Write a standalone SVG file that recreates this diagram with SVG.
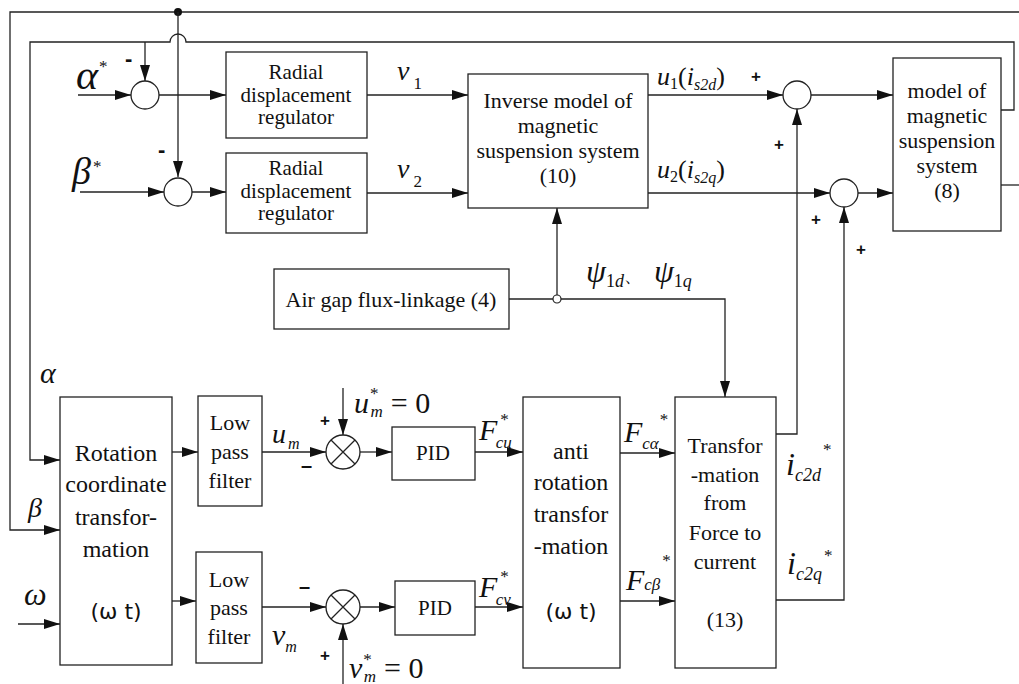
<svg xmlns="http://www.w3.org/2000/svg" width="1019" height="684" viewBox="0 0 1019 684">
<style>
.box{fill:#fff;stroke:#222;stroke-width:1.3}
.ln{fill:none;stroke:#222;stroke-width:1.3}
.t{font-family:"Liberation Serif",serif;font-size:21px;text-anchor:middle;fill:#111}
.m{font-family:"Liberation Serif",serif;font-style:italic;fill:#111}
.n{font-family:"Liberation Serif",serif;font-style:normal;fill:#111}
.sg{font-family:"Liberation Sans",sans-serif;font-weight:bold;fill:#111}
.ar{marker-end:url(#ah)}
</style>
<defs>
<marker id="ah" viewBox="0 0 16 10" refX="16" refY="5" markerWidth="16" markerHeight="10" markerUnits="userSpaceOnUse" orient="auto"><path d="M0,0 L16,5 L0,10 z" fill="#111"/></marker>
</defs>
<rect width="1019" height="684" fill="#fff"/>
<g id="connectors">
<path class="ln ar" d="M1019,12 H10 V530 H60"/>
<circle cx="178" cy="12" r="4" fill="#111"/>
<path class="ln ar" d="M178,12 V177"/>
<path class="ln ar" d="M1001,110 H1014 V42 H186 A8,8 0 0 0 170,42 H30 V460 H60"/>
<path class="ln ar" d="M145,42 V81"/>
<path class="ln ar" d="M78,95 H131"/>
<path class="ln ar" d="M159,95 H226"/>
<path class="ln ar" d="M80,192 H164"/>
<path class="ln ar" d="M192,192 H226"/>
<path class="ln ar" d="M367,95 H468"/>
<path class="ln ar" d="M367,193 H468"/>
<path class="ln ar" d="M648,95 H783"/>
<path class="ln ar" d="M811,95 H893"/>
<path class="ln ar" d="M648,193 H830"/>
<path class="ln ar" d="M858,193 H893"/>
<path class="ln" d="M1001,185 H1019"/>
<path class="ln" d="M509,299 H553"/>
<circle cx="557" cy="299" r="4" fill="#fff" stroke="#222" stroke-width="1.2"/>
<path class="ln ar" d="M561,299 H725 V397"/>
<path class="ln ar" d="M557,295 V208"/>
<path class="ln ar" d="M776,434 H797 V109"/>
<path class="ln ar" d="M776,600 H844 V207"/>
<path class="ln ar" d="M172,452 H198"/>
<path class="ln ar" d="M172,601 H196"/>
<path class="ln ar" d="M262,452 H326"/>
<path class="ln ar" d="M343,388 V435"/>
<path class="ln ar" d="M360,452 H392"/>
<path class="ln ar" d="M475,452 H523"/>
<path class="ln ar" d="M620,453 H675"/>
<path class="ln ar" d="M262,607 H326"/>
<path class="ln ar" d="M343,684 V624"/>
<path class="ln ar" d="M360,607 H395"/>
<path class="ln ar" d="M475,607 H523"/>
<path class="ln ar" d="M620,601 H675"/>
<path class="ln ar" d="M18,624 H60"/>
</g>
<g id="sum-alpha"><circle cx="145" cy="95" r="14" class="box"/></g>
<g id="sum-beta"><circle cx="178" cy="192" r="14" class="box"/></g>
<g id="sum-u1"><circle cx="797" cy="95" r="14" class="box"/></g>
<g id="sum-u2"><circle cx="844" cy="193" r="14" class="box"/></g>
<g id="mult-u"><circle cx="343" cy="452" r="17" class="box"/><path class="ln" d="M331,440 L355,464 M355,440 L331,464"/></g>
<g id="mult-v"><circle cx="343" cy="607" r="17" class="box"/><path class="ln" d="M331,595 L355,619 M355,595 L331,619"/></g>
<g id="radial1"><rect class="box" x="226" y="52" width="141" height="86"/>
<text class="t" x="296" y="79">Radial</text><text class="t" x="296" y="102">displacement</text><text class="t" x="296" y="124">regulator</text></g>
<g id="radial2"><rect class="box" x="226" y="153" width="141" height="80"/>
<text class="t" x="296" y="175">Radial</text><text class="t" x="296" y="198">displacement</text><text class="t" x="296" y="220">regulator</text></g>
<g id="inverse"><rect class="box" x="468" y="74" width="180" height="134"/>
<text class="t" style="font-size:22px" x="558" y="108">Inverse model of</text><text class="t" style="font-size:22px" x="558" y="133">magnetic</text><text class="t" style="font-size:22px" x="558" y="158">suspension system</text><text class="t" style="font-size:22px" x="558" y="183">(10)</text></g>
<g id="model"><rect class="box" x="893" y="58" width="108" height="173"/>
<text class="t" style="font-size:22px" x="947" y="98">model of</text><text class="t" style="font-size:22px" x="947" y="123">magnetic</text><text class="t" style="font-size:22px" x="947" y="148">suspension</text><text class="t" style="font-size:22px" x="947" y="173">system</text><text class="t" style="font-size:22px" x="947" y="198">(8)</text></g>
<g id="airgap"><rect class="box" x="274" y="269" width="235" height="60"/>
<text class="t" style="font-size:22px" x="391" y="307">Air gap flux-linkage (4)</text></g>
<g id="rotation"><rect class="box" x="60" y="397" width="112" height="268"/>
<text class="t" style="font-size:24px" x="116" y="461">Rotation</text><text class="t" style="font-size:24px" x="116" y="492">coordinate</text><text class="t" style="font-size:24px" x="116" y="525">transfor-</text><text class="t" style="font-size:24px" x="116" y="557">mation</text><text class="t" style="font-size:22px;font-family:'DejaVu Sans',sans-serif" x="116" y="619">(ω t)</text></g>
<g id="lpf1"><rect class="box" x="198" y="396" width="64" height="110"/>
<text class="t" style="font-size:22px" x="230" y="430">Low</text><text class="t" style="font-size:22px" x="230" y="459">pass</text><text class="t" style="font-size:22px" x="230" y="488">filter</text></g>
<g id="lpf2"><rect class="box" x="196" y="552" width="66" height="111"/>
<text class="t" style="font-size:22px" x="229" y="587">Low</text><text class="t" style="font-size:22px" x="229" y="615">pass</text><text class="t" style="font-size:22px" x="229" y="644">filter</text></g>
<g id="pid1"><rect class="box" x="392" y="427" width="83" height="53"/><text class="t" x="433" y="460">PID</text></g>
<g id="pid2"><rect class="box" x="395" y="581" width="80" height="54"/><text class="t" x="435" y="615">PID</text></g>
<g id="anti"><rect class="box" x="523" y="397" width="97" height="271"/>
<text class="t" style="font-size:24px" x="571" y="459">anti</text><text class="t" style="font-size:24px" x="571" y="490">rotation</text><text class="t" style="font-size:24px" x="571" y="522">transfor</text><text class="t" style="font-size:24px" x="571" y="554">-mation</text><text class="t" style="font-size:22px;font-family:'DejaVu Sans',sans-serif" x="571" y="619">(ω t)</text></g>
<g id="transform"><rect class="box" x="675" y="397" width="101" height="271"/>
<text class="t" style="font-size:22px" x="725" y="453">Transfor</text><text class="t" style="font-size:22px" x="725" y="482">-mation</text><text class="t" style="font-size:22px" x="725" y="510">from</text><text class="t" style="font-size:22px" x="725" y="540">Force to</text><text class="t" style="font-size:22px" x="725" y="569">current</text><text class="t" style="font-size:22px" x="725" y="627">(13)</text></g>
<g id="labels">
<text class="m" x="76" y="89" font-size="42">α<tspan class="n" font-size="17" dx="1" dy="-17">*</tspan></text>
<text class="m" x="72" y="184" font-size="38">β<tspan class="n" font-size="17" dx="2" dy="-12">*</tspan></text>
<text class="sg" x="125" y="66" font-size="22">-</text>
<text class="sg" x="158" y="157" font-size="22">-</text>
<text class="m" x="397" y="80" font-size="28">v<tspan class="n" font-size="17" dx="4" dy="9">1</tspan></text>
<text class="m" x="397" y="178" font-size="28">v<tspan class="n" font-size="17" dx="4" dy="9">2</tspan></text>
<text class="m" x="657" y="85" font-size="26">u<tspan class="n" font-size="16" dy="4">1</tspan><tspan class="n" dy="-4">(</tspan>i<tspan font-size="16" dy="5">s2d</tspan><tspan class="n" dy="-5">)</tspan></text>
<text class="m" x="657" y="178" font-size="26">u<tspan class="n" font-size="16" dy="4">2</tspan><tspan class="n" dy="-4">(</tspan>i<tspan font-size="16" dy="5">s2q</tspan><tspan class="n" dy="-5">)</tspan></text>
<text class="sg" x="751" y="82" font-size="17">+</text>
<text class="sg" x="774" y="150" font-size="17">+</text>
<text class="sg" x="811" y="225" font-size="17">+</text>
<text class="sg" x="856" y="255" font-size="17">+</text>
<text class="m" x="586" y="282" font-size="32">ψ<tspan class="n" font-size="18" dy="5">1</tspan><tspan font-size="18">d</tspan><tspan class="n" dy="-5" font-size="18">、</tspan><tspan dx="12">ψ</tspan><tspan class="n" font-size="18" dy="5">1</tspan><tspan font-size="18">q</tspan></text>
<text class="m" x="40" y="383" font-size="30">α</text>
<text class="m" x="28" y="517" font-size="28">β</text>
<text class="m" x="24" y="605" font-size="32">ω</text>
<text class="m" x="272" y="443" font-size="28">u<tspan font-size="16" dx="2" dy="6">m</tspan></text>
<text class="sg" x="301" y="472" font-size="20">–</text>
<text class="sg" x="320" y="426" font-size="17">+</text>
<text class="m" x="354" y="413" font-size="30">u<tspan class="n" font-size="17" dx="1" dy="-14">*</tspan><tspan font-size="17" dx="-8" dy="18">m</tspan><tspan class="n" dx="8" dy="-4">= 0</tspan></text>
<text class="m" x="479" y="440" font-size="30">F<tspan class="n" font-size="17" dx="3" dy="-15">*</tspan><tspan font-size="17" dx="-13" dy="23">cu</tspan></text>
<text class="m" x="479" y="597" font-size="30">F<tspan class="n" font-size="17" dx="3" dy="-15">*</tspan><tspan font-size="17" dx="-13" dy="23">cv</tspan></text>
<text class="m" x="624" y="442" font-size="30">F<tspan font-size="17" dx="0" dy="7">cα</tspan><tspan class="n" font-size="17" dx="1" dy="-24">*</tspan></text>
<text class="m" x="626" y="590" font-size="30">F<tspan font-size="17" dx="0" dy="0">cβ</tspan><tspan class="n" font-size="17" dx="2" dy="-24">*</tspan></text>
<text class="m" x="786" y="475" font-size="32">i<tspan font-size="18" dy="6">c2d</tspan><tspan class="n" font-size="17" dx="2" dy="-26">*</tspan></text>
<text class="m" x="787" y="574" font-size="32">i<tspan font-size="18" dy="6">c2q</tspan><tspan class="n" font-size="17" dx="2" dy="-19">*</tspan></text>
<text class="m" x="272" y="645" font-size="30">v<tspan font-size="16" dx="0" dy="7">m</tspan></text>
<text class="sg" x="299" y="593" font-size="20">–</text>
<text class="sg" x="320" y="661" font-size="17">+</text>
<text class="m" x="349" y="678" font-size="30">v<tspan class="n" font-size="17" dx="1" dy="-13">*</tspan><tspan font-size="17" dx="-8" dy="17">m</tspan><tspan class="n" dx="8" dy="-4">= 0</tspan></text>
</g>
</svg>
